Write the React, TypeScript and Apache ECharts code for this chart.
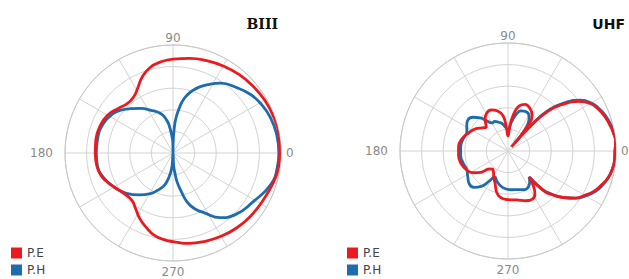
import React, { useEffect, useRef } from "react";
import * as echarts from "echarts";

// Angle tick labels shown
const angleLabels = [0, 90, 180, 270];

// BIII – P.E
const biiiPEAngles = [0, 10, 20, 30, 40, 50, 60, 70, 80, 90, 98, 105, 112, 118, 123, 128, 134, 140, 150, 160, 170, 180, 190, 197, 203, 210, 219, 229, 236, 243, 250, 257, 265, 270, 280, 290, 300, 310, 320, 331, 344, 352];
const biiiPE = [0.99, 0.995, 0.99, 0.98, 0.965, 0.95, 0.93, 0.91, 0.89, 0.87, 0.85, 0.82, 0.76, 0.69, 0.645, 0.625, 0.625, 0.65, 0.7, 0.72, 0.725, 0.72, 0.715, 0.7, 0.67, 0.63, 0.59, 0.58, 0.62, 0.68, 0.73, 0.78, 0.81, 0.82, 0.85, 0.87, 0.89, 0.91, 0.925, 0.94, 0.97, 0.985];

// BIII – P.H
const biiiPHAngles = [0, 10, 20, 30, 37, 45, 56, 62, 68, 73, 77, 80, 82, 85, 87, 89, 90, 91, 94, 98, 101, 107, 118, 126, 134, 140, 146, 157, 170, 180, 190, 200, 210, 221, 231, 241, 248, 254, 258, 262, 266, 270, 273, 276, 278, 282, 286, 291, 298, 306, 315, 329, 342, 352];
const biiiPH = [0.98, 0.975, 0.96, 0.93, 0.9, 0.85, 0.78, 0.72, 0.66, 0.6, 0.54, 0.48, 0.42, 0.33, 0.24, 0.1, 0.0, 0.1, 0.16, 0.26, 0.31, 0.38, 0.45, 0.51, 0.57, 0.62, 0.66, 0.7, 0.71, 0.71, 0.71, 0.68, 0.63, 0.57, 0.5, 0.43, 0.37, 0.32, 0.27, 0.2, 0.12, 0.0, 0.12, 0.2, 0.27, 0.36, 0.47, 0.55, 0.63, 0.74, 0.81, 0.87, 0.95, 0.975];

// UHF – P.E
const uhfPEAngles = [0, 5, 10, 15, 20, 25, 30, 35, 40, 45, 48, 50, 52, 56, 62, 70, 76, 82, 86, 90, 94, 98, 104, 112, 120, 126, 132, 138, 145, 155, 165, 175, 185, 195, 205, 212, 218, 224, 230, 236, 242, 248, 255, 262, 270, 280, 290, 297, 302, 306, 309, 312, 315, 320, 325, 330, 335, 340, 345, 350, 355];
const uhfPE = [0.99, 1.0, 0.99, 0.97, 0.95, 0.92, 0.88, 0.8, 0.68, 0.52, 0.3, 0.05, 0.3, 0.4, 0.44, 0.46, 0.43, 0.33, 0.22, 0.14, 0.22, 0.33, 0.38, 0.41, 0.4, 0.36, 0.3, 0.32, 0.36, 0.4, 0.44, 0.46, 0.46, 0.45, 0.42, 0.38, 0.32, 0.24, 0.22, 0.24, 0.28, 0.32, 0.4, 0.44, 0.45, 0.46, 0.49, 0.5, 0.47, 0.4, 0.31, 0.5, 0.57, 0.67, 0.76, 0.82, 0.88, 0.92, 0.96, 0.98, 0.99];

// UHF – P.H
const uhfPHAngles = [0, 5, 10, 15, 20, 25, 30, 35, 40, 45, 48, 50, 53, 58, 65, 72, 78, 84, 90, 96, 102, 108, 114, 120, 125, 130, 136, 142, 148, 155, 165, 175, 185, 195, 205, 212, 220, 227, 233, 238, 243, 250, 258, 266, 275, 285, 293, 300, 305, 309, 312, 315, 320, 325, 330, 335, 340, 345, 350, 355];
const uhfPH = [0.99, 1.0, 0.99, 0.98, 0.96, 0.93, 0.89, 0.82, 0.7, 0.54, 0.32, 0.1, 0.3, 0.37, 0.4, 0.39, 0.34, 0.26, 0.2, 0.22, 0.26, 0.28, 0.3, 0.3, 0.34, 0.4, 0.45, 0.47, 0.45, 0.42, 0.43, 0.44, 0.44, 0.43, 0.42, 0.44, 0.47, 0.46, 0.41, 0.33, 0.27, 0.3, 0.33, 0.35, 0.36, 0.37, 0.39, 0.38, 0.35, 0.31, 0.48, 0.56, 0.67, 0.76, 0.83, 0.89, 0.93, 0.96, 0.98, 0.99];

const seriesNames = ["P.E", "P.H"];
const titles = ["BIII", "UHF"];

const RED = "#ec1a1f";
const BLUE = "#1d6cae";

function toPairs(angles: number[], values: number[]) {
  const d = angles.map((a, i) => [values[i], a]);
  d.push([values[0], 360]);
  return d;
}

const labelFont = { color: "#8a8a8a", fontSize: 12, fontFamily: "DejaVu Sans" };

function polarAxes(index: number) {
  return {
    angle: {
      polarIndex: index,
      type: "value",
      min: 0,
      max: 360,
      interval: 30,
      startAngle: 0,
      clockwise: false,
      axisLine: { show: true, lineStyle: { color: "#c8c8c8", width: 1 } },
      axisTick: { show: false },
      axisLabel: {
        show: true,
        margin: 1,
        ...labelFont,
        formatter: (v: number) => {
          if (angleLabels.indexOf(v) < 0) return "";
          if (v === 0) return "{zero|" + v + "}";
          if (v === 180) return "{far|" + v + "}";
          if (v === 270) return "{low|" + v + "}";
          return String(v);
        },
        rich: {
          zero: { padding: [0, 0, 0, 4], ...labelFont },
          far: { padding: [0, 11, 0, 0], ...labelFont },
          low: { padding: [4, 0, 0, 0], ...labelFont },
        },
      },
      splitLine: { show: true, lineStyle: { color: "#d2d2d2", width: 1 } },
    },
    radius: {
      polarIndex: index,
      type: "value",
      min: 0,
      max: 1,
      interval: 0.2,
      axisLine: { show: false },
      axisTick: { show: false },
      axisLabel: { show: false },
      splitLine: { show: true, lineStyle: { color: "#d2d2d2", width: 1 } },
    },
  };
}

export default function App() {
  const ref = useRef<HTMLDivElement>(null);
  useEffect(() => {
    if (!ref.current) return;
    const chart = echarts.init(ref.current, undefined, { renderer: "svg" });
    const a0 = polarAxes(0);
    const a1 = polarAxes(1);
    const lineSeries = (name: string, color: string, polarIndex: number, data: number[][]) => ({
      name,
      type: "line",
      coordinateSystem: "polar",
      polarIndex,
      data,
      smooth: 0.5,
      showSymbol: false,
      symbol: "none",
      lineStyle: { color, width: 2.8 },
      itemStyle: { color },
      z: 3,
    });
    const legendBase = {
      data: seriesNames,
      orient: "vertical",
      top: 247,
      padding: 0,
      itemWidth: 11,
      itemHeight: 11,
      itemGap: 5,
      icon: "rect",
      textStyle: { fontSize: 12, color: "#444", fontFamily: "DejaVu Sans" },
      selectedMode: false,
    };
    chart.setOption({
      animation: false,
      backgroundColor: "#ffffff",
      title: [
        {
          text: titles[0],
          right: 351,
          top: 17,
          padding: 0,
          textStyle: { fontFamily: "DejaVu Serif", fontWeight: "bold", fontSize: 14, color: "#111" },
        },
        {
          text: titles[1],
          right: 4,
          top: 17,
          padding: 0,
          textStyle: { fontFamily: "DejaVu Sans", fontWeight: "bold", fontSize: 14, color: "#111" },
        },
      ],
      legend: [
        { ...legendBase, left: 11 },
        { ...legendBase, left: 347 },
      ],
      polar: [
        { center: [173, 153], radius: 108 },
        { center: [508, 151], radius: 108 },
      ],
      angleAxis: [a0.angle, a1.angle],
      radiusAxis: [a0.radius, a1.radius],
      series: [
        lineSeries(seriesNames[1], BLUE, 0, toPairs(biiiPHAngles, biiiPH)),
        lineSeries(seriesNames[0], RED, 0, toPairs(biiiPEAngles, biiiPE)),
        lineSeries(seriesNames[1], BLUE, 1, toPairs(uhfPHAngles, uhfPH)),
        lineSeries(seriesNames[0], RED, 1, toPairs(uhfPEAngles, uhfPE)),
      ],
    });
    return () => chart.dispose();
  }, []);
  return (
    <div
      ref={ref}
      style={{ position: "fixed", left: 0, top: 0, width: 629, height: 279, background: "#fff" }}
    />
  );
}
